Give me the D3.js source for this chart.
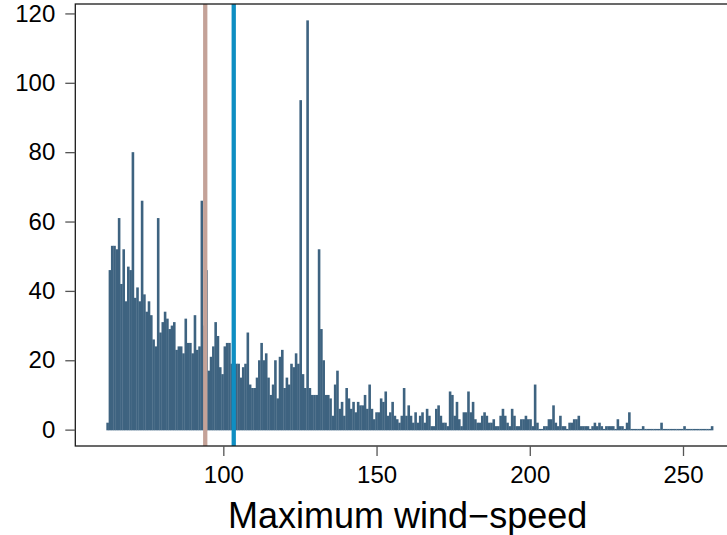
<!DOCTYPE html>
<html>
<head>
<meta charset="utf-8">
<script src="https://cdn.jsdelivr.net/npm/d3@7"></script>
<style>
  body { margin: 0; background: #fff; }
  svg { display: block; font-family: "Liberation Sans", Arial, sans-serif; }
</style>
</head>
<body>
<div id="chart"></div>
<script>
// counts per wind-speed value (first bar at 62.25, step 0.75)
const speedStart = 62.25;
const speedStep = 0.75;
const counts = [
  2, 46, 53, 53, 52, 61, 42, 52, 37, 47,
  46, 80, 38, 41, 37, 66, 39, 34, 37, 33,
  26, 24, 61, 28, 31, 34, 32, 29, 30, 31,
  23, 24, 24, 22, 32, 25, 25, 22, 33, 23,
  24, 66, 30, 46, 17, 21, 24, 31, 27, 18,
  16, 24, 25, 25, 19, 19, 19, 19, 15, 18,
  19, 28, 13, 12, 12, 15, 20, 25, 20, 22,
  15, 10, 13, 20, 9, 21, 23, 12, 15, 13,
  19, 18, 22, 19, 95, 16, 12, 118, 12, 10,
  10, 10, 52, 29, 20, 10, 10, 9, 4, 13,
  17, 6, 8, 4, 12, 9, 6, 8, 5, 8,
  7, 7, 10, 6, 13, 6, 3, 5, 5, 9,
  8, 11, 4, 5, 8, 4, 3, 2, 4, 12,
  4, 7, 4, 2, 5, 2, 4, 5, 2, 6,
  4, 1, 1, 6, 7, 4, 2,
  2, 1, 11, 10, 4, 8, 3, 1, 5, 5,
  11, 5, 8, 3, 2, 2, 4, 5, 4, 2,
  2, 3, 1, 1, 4, 6, 4, 2, 1, 6,
  4, 1, 1, 3, 3, 4, 3,
  3, 1, 13, 2, 0, 0, 1, 1, 3, 3,
  7, 2, 1, 4, 1, 1, 0, 2, 2, 3,
  3, 4, 1, 1, 1, 1, 0, 1, 2, 1,
  2, 1, 0, 1, 1, 1, 1, 0, 3, 1,
  1, 0, 2, 5, 0, 0, 0, 0, 0, 1,
  0, 0, 0, 0, 0, 0, 0, 2, 0, 0,
  0, 0, 0, 0, 0, 0, 0, 1, 0, 0,
  0, 0, 0, 0, 0, 0, 0, 0, 0, 1
];
const speeds = counts.map((c, i) => speedStart + i * speedStep);

// reference lines (brown and blue)
const refLines = [
  { value: 94.1, color: "#c4a298" },
  { value: 103.4, color: "#0e8ec2" }
];
const xTicks = [100, 150, 200, 250];
const yTicks = [0, 20, 40, 60, 80, 100, 120];
const xLabel = "Maximum wind\u2212speed";

const width = 727, height = 535;
const plotL = 75.3, plotR = 740, plotT = 4, plotB = 446;

const svg = d3.select("#chart").append("svg")
    .attr("width", width)
    .attr("height", height);

const x = d3.scaleLinear().domain([51.7, 268.6]).range([plotL, plotR]);
const y = d3.scaleLinear().domain([-4.72, 122.72]).range([plotB, plotT]);

const data = speeds.map((s, i) => ({ speed: s, count: counts[i] }));
const barW = 2.6;

// bars (type = "h" style), zero counts leave a thin stub on the baseline
svg.append("g")
  .selectAll("rect")
  .data(data)
  .enter().append("rect")
    .attr("x", d => x(d.speed) - barW / 2)
    .attr("width", barW)
    .attr("y", d => Math.min(y(d.count), y(0) - 0.7))
    .attr("height", d => Math.max(y(0) - y(d.count), 0.7) + 0.7)
    .style("fill", "#3e6380");

// vertical reference lines
svg.append("g")
  .selectAll("line")
  .data(refLines)
  .enter().append("line")
    .attr("x1", d => x(d.value))
    .attr("x2", d => x(d.value))
    .attr("y1", plotT)
    .attr("y2", plotB)
    .style("stroke", d => d.color)
    .style("stroke-width", 4.3);

// box
svg.append("rect")
    .attr("x", plotL)
    .attr("y", plotT)
    .attr("width", plotR - plotL)
    .attr("height", plotB - plotT)
    .style("fill", "none")
    .style("stroke", "#1a1a1a")
    .style("stroke-width", 1.3);

// y axis
const yAxis = svg.append("g")
    .attr("transform", `translate(${plotL},0)`)
    .call(d3.axisLeft(y).tickValues(yTicks).tickSize(10).tickPadding(10));
yAxis.select(".domain").remove();
yAxis.selectAll(".tick line").style("stroke", "#555").style("stroke-width", 1.3);
yAxis.selectAll(".tick text")
    .style("font-size", "24px")
    .style("fill", "#000")
    .style("font-family", "Liberation Sans, Arial, sans-serif");

// x axis
const xAxis = svg.append("g")
    .attr("transform", `translate(0,${plotB})`)
    .call(d3.axisBottom(x).tickValues(xTicks).tickSize(10).tickPadding(10));
xAxis.select(".domain").remove();
xAxis.selectAll(".tick line").style("stroke", "#555").style("stroke-width", 1.3);
xAxis.selectAll(".tick text")
    .style("font-size", "24px")
    .style("fill", "#000")
    .style("font-family", "Liberation Sans, Arial, sans-serif");

// x label
svg.append("text")
    .attr("x", (plotL + plotR) / 2)
    .attr("y", 528)
    .attr("text-anchor", "middle")
    .style("font-size", "36px")
    .style("fill", "#000")
    .text(xLabel);
</script>
</body>
</html>
